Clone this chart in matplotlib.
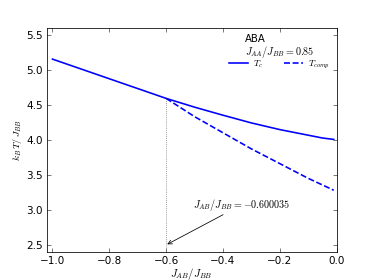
import matplotlib
matplotlib.use("Agg")
import matplotlib.pyplot as plt

plt.rcParams['mathtext.fontset'] = 'cm'
plt.rcParams['font.family'] = ['DejaVu Sans']

# T_c curve
jab_tc = [-1.0, -0.9, -0.8, -0.7, -0.6, -0.5, -0.4, -0.3, -0.2, -0.1, -0.05, -0.01]
tc = [5.15, 5.01, 4.87, 4.73, 4.59, 4.465, 4.35, 4.24, 4.145, 4.065, 4.025, 4.005]

# T_comp curve
jab_comp = [-0.6, -0.5, -0.4, -0.3, -0.2, -0.1, -0.01]
tcomp = [4.59, 4.33, 4.10, 3.87, 3.66, 3.45, 3.28]

jab_crit = -0.600035
tc_crit = 4.59

fig, ax = plt.subplots(figsize=(8, 6), dpi=46.75)
fig.subplots_adjust(left=0.125, right=0.9, bottom=0.1, top=0.9)

ax.plot(jab_tc, tc, color='b', lw=2.5, label=r'$T_c$')
ax.plot(jab_comp, tcomp, color='b', lw=2.5, ls='--', label=r'$T_{comp}$')
ax.plot([jab_crit, jab_crit], [2.4, tc_crit], color='dimgray', lw=1.2, ls=':')

ax.annotate(r'$J_{AB}/J_{BB}=-0.600035$', xy=(jab_crit, 2.5), xytext=(-0.505, 3.03),
            fontsize=15.5, arrowprops=dict(arrowstyle='->', color='k', lw=1.2))

ax.set_xlim(-1.02, 0.0)
ax.set_ylim(2.4, 5.6)
ax.set_xticks([-1.0, -0.8, -0.6, -0.4, -0.2, 0.0])
ax.set_yticks([2.5, 3.0, 3.5, 4.0, 4.5, 5.0, 5.5])
ax.tick_params(direction='in', top=True, right=True, labelsize=16, length=6, pad=6)
for s in ax.spines.values():
    s.set_linewidth(1.2)

ax.set_xlabel(r'$J_{AB}/J_{BB}$', fontsize=16.5, labelpad=0)
ax.set_ylabel(r'$k_B\,T/\,J_{BB}$', fontsize=15)

leg = ax.legend(loc='upper right', ncol=2, frameon=False, fontsize=14,
                title='ABA\n' + r'$J_{AA}/J_{BB}=0.85$', handlelength=2.1,
                handletextpad=0.55, columnspacing=2.3, borderaxespad=0.3,
                handleheight=0.4)
leg.get_title().set_fontsize(15.5)
leg.get_title().set_multialignment('left')
leg.get_title().set_linespacing(0.95)
leg._legend_box.sep = -2

fig.savefig('out.png', dpi=46.75)
